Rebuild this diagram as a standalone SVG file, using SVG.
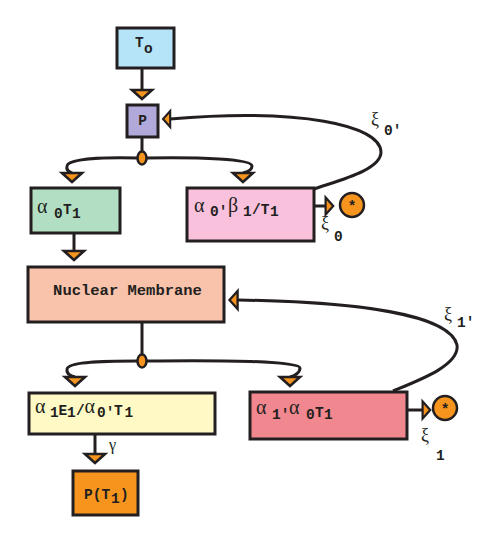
<svg xmlns="http://www.w3.org/2000/svg" xmlns:xlink="http://www.w3.org/1999/xlink" width="490" height="550" viewBox="0 0 490 550">
<style>
.box{stroke:#231f20;stroke-width:3}
.ln{fill:none;stroke:#231f20;stroke-width:3}
.arr{fill:#f7941d;stroke:#231f20;stroke-width:2.6;stroke-linejoin:miter}
.dot{fill:#f7941d;stroke:#231f20;stroke-width:2.5}
.m{font-family:"Liberation Mono","DejaVu Sans Mono",monospace;font-weight:bold;font-size:14.5px;fill:#231f20}
.g{font-family:"Liberation Serif","DejaVu Serif",serif;font-size:20px;fill:#231f20}
.x{font-family:"Liberation Serif","DejaVu Serif",serif;font-size:18px;fill:#231f20}
</style>
<defs>
<path id="tri" d="M-10,-4 L10,-4 L0,5 Z" class="arr"/>
</defs>
<rect width="490" height="550" fill="#ffffff"/>
<g id="connectors">
<path class="ln" d="M142,68 V90"/>
<path class="ln" d="M142,137 V152"/>
<path class="ln" d="M74,233 V251"/>
<path class="ln" d="M142,322 V355"/>
<path class="ln" d="M95,434 V454"/>
<path class="ln" d="M314,206 H325"/>
<path class="ln" d="M407,410 H422"/>
<path class="ln" d="M138,158 C100,157 68,159 67,166 C66,170 69,172 72,173"/>
<path class="ln" d="M146,158 C200,157 252,159 252,166 C252,170 247,172 243,173"/>
<path class="ln" d="M138,361 C100,361 68,362 67,369 C66,374 71,376 75,377"/>
<path class="ln" d="M146,361 C220,360 300,361 300,368 C300,373 294,376 290,377"/>
<path class="ln" d="M314,189 C340,180 381,170 381,152 C380,125 300,108 170,119"/>
<path class="ln" d="M393,391 C420,380 460,365 457,345 C450,315 360,302 238,300"/>
<use xlink:href="#tri" transform="translate(142,94)"/>
<use xlink:href="#tri" transform="translate(72,177)"/>
<use xlink:href="#tri" transform="translate(243,177)"/>
<use xlink:href="#tri" transform="translate(74,255)"/>
<use xlink:href="#tri" transform="translate(75,381)"/>
<use xlink:href="#tri" transform="translate(290,381)"/>
<use xlink:href="#tri" transform="translate(95,458)"/>
<use xlink:href="#tri" transform="translate(167,119) rotate(90) scale(0.8)"/>
<use xlink:href="#tri" transform="translate(234,300) rotate(90) scale(0.9)"/>
<use xlink:href="#tri" transform="translate(329,206) rotate(-90) scale(0.85)"/>
<use xlink:href="#tri" transform="translate(426,410) rotate(-90) scale(0.85)"/>
<ellipse class="dot" cx="142" cy="158" rx="4.5" ry="6.5"/>
<ellipse class="dot" cx="142" cy="361" rx="4.5" ry="6.5"/>
</g>
<g id="T0">
<rect class="box" x="117" y="28" width="57" height="40" fill="#b5e4f8"/>
<text class="m"><tspan x="135" y="47">T</tspan><tspan x="144" y="53">o</tspan></text>
</g>
<g id="P">
<rect class="box" x="127" y="105" width="31" height="32" fill="#b1a9d9"/>
<text class="m" x="142.5" y="125" text-anchor="middle">P</text>
</g>
<g id="alpha0T1">
<rect class="box" x="31" y="188" width="89" height="45" fill="#b2dfc3"/>
<text class="g" x="37" y="213">α</text>
<text class="m"><tspan x="54" y="218">0</tspan><tspan x="63" y="214">T</tspan><tspan x="72" y="218">1</tspan></text>
</g>
<g id="alpha0beta1">
<rect class="box" x="187" y="188" width="127" height="53" fill="#f9c1dc"/>
<text class="g" x="194" y="212">α</text>
<text class="m"><tspan x="210" y="216">0'</tspan></text>
<text class="g" x="228" y="212">β</text>
<text class="m"><tspan x="243" y="216">1</tspan><tspan x="252" y="214">/T</tspan><tspan x="270" y="216">1</tspan></text>
</g>
<g id="out0">
<circle class="dot" cx="352" cy="205" r="12"/>
<text class="m" x="352" y="211" text-anchor="middle">*</text>
<text class="x" x="321" y="229">ξ</text>
<text class="m" x="334" y="241">0</text>
<text class="x" x="371" y="125">ξ</text>
<text class="m" x="384" y="135">0'</text>
</g>
<g id="nuclear">
<rect class="box" x="28" y="267" width="196" height="55" fill="#f9c2ab"/>
<text class="m" x="127.5" y="295" text-anchor="middle" style="font-size:15.5px">Nuclear Membrane</text>
</g>
<g id="alpha1E1">
<rect class="box" x="29" y="393" width="186" height="41" fill="#fff9c6"/>
<text class="g" x="35" y="413">α</text>
<text class="m"><tspan x="50" y="417">1</tspan><tspan x="58.5" y="415">E</tspan><tspan x="67" y="417">1</tspan><tspan x="76" y="415">/</tspan></text>
<text class="g" x="84.5" y="413">α</text>
<text class="m"><tspan x="97" y="417">0'</tspan><tspan x="114" y="415">T</tspan><tspan x="124.5" y="417">1</tspan></text>
<text class="x" x="109" y="450" style="font-size:16px">γ</text>
</g>
<g id="alpha1alpha0">
<rect class="box" x="250" y="392" width="157" height="47" fill="#f1878f"/>
<text class="g" x="256" y="414">α</text>
<text class="m"><tspan x="272" y="419">1'</tspan></text>
<text class="g" x="289" y="414">α</text>
<text class="m"><tspan x="306" y="419">0</tspan><tspan x="315" y="417">T</tspan><tspan x="324" y="419">1</tspan></text>
</g>
<g id="out1">
<circle class="dot" cx="445" cy="408" r="12"/>
<text class="m" x="445" y="414" text-anchor="middle">*</text>
<text class="x" x="421" y="441">ξ</text>
<text class="m" x="436" y="460">1</text>
<text class="x" x="444" y="320">ξ</text>
<text class="m" x="457" y="327">1'</text>
</g>
<g id="PT1">
<rect class="box" x="73" y="471" width="65" height="44" fill="#f7941d"/>
<text class="m"><tspan x="84" y="499">P(T</tspan><tspan x="111" y="503">1</tspan><tspan x="120" y="499">)</tspan></text>
</g>
</svg>
